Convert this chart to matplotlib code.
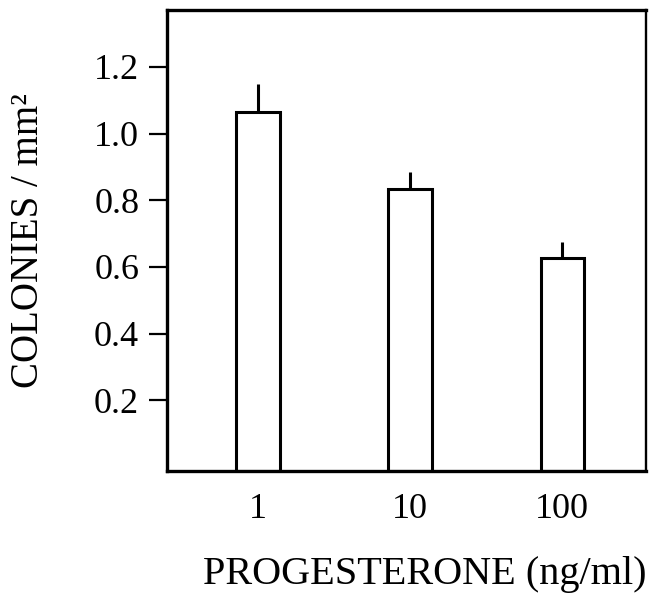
import numpy as np
import matplotlib
matplotlib.use('Agg')
import matplotlib.pyplot as plt

# data
doses = ['1', '10', '100']
colonies = [1.065, 0.833, 0.627]
sem = [0.085, 0.052, 0.048]
yticks = [0.2, 0.4, 0.6, 0.8, 1.0, 1.2]

plt.rcParams['font.family'] = ['Liberation Serif', 'DejaVu Serif']

fig = plt.figure(figsize=(6.49, 6.0), dpi=100)
ax = fig.add_axes([0.2573, 0.215, 0.7381, 0.768])

# the x axis sits a little below zero in the original, bars run down to it
base = -0.012
x = np.arange(len(doses))
heights = [c - base for c in colonies]
lower = [0] * len(sem)
ax.bar(x, heights, bottom=base, width=0.285, color='white', edgecolor='black', linewidth=2.2)
ax.errorbar(x, colonies, yerr=[lower, sem], fmt='none', ecolor='black',
            elinewidth=2.2, capsize=0)

ax.set_xlim(-0.598, 2.55)
ax.set_ylim(base, 1.37)
ax.set_xticks(x)
ax.set_xticklabels(doses)
ax.set_yticks(yticks)
ax.set_yticklabels(['%.1f' % v for v in yticks])

ax.tick_params(axis='y', direction='out', length=13, width=1.6, pad=7, labelsize=26)
ax.tick_params(axis='x', length=0, pad=16, labelsize=26)

for side in ['left', 'bottom', 'top']:
    ax.spines[side].set_linewidth(2.4)
ax.spines['right'].set_linewidth(1.7)

ax.set_ylabel('COLONIES / mm²', fontsize=28, labelpad=34)
ax.set_xlabel('PROGESTERONE (ng/ml)', fontsize=29)
ax.xaxis.set_label_coords(0.539, -0.185)

fig.savefig('out.png', dpi=100)
